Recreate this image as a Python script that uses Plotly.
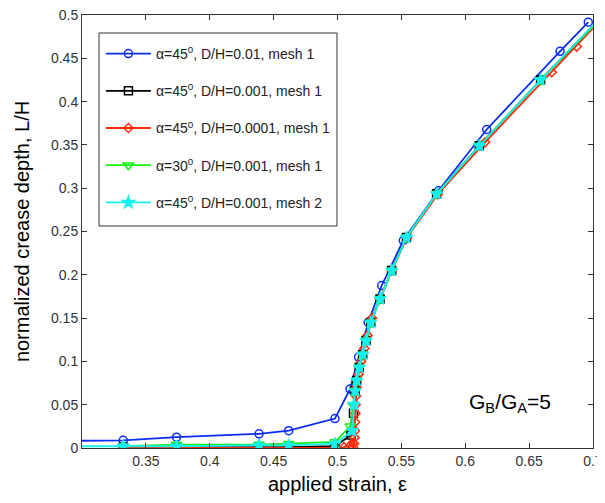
import plotly.graph_objects as go

# ---- data ----
blue_x = [0.25, 0.3323, 0.374, 0.4386, 0.4618, 0.498, 0.5098, 0.5165, 0.524, 0.5346, 0.5515, 0.579, 0.6168, 0.6742, 0.6963]
blue_y = [0.0075, 0.0089, 0.0125, 0.0164, 0.020, 0.034, 0.068, 0.105, 0.145, 0.1876, 0.2396, 0.297, 0.3678, 0.458, 0.4917]

black_x = [0.3323, 0.374, 0.4386, 0.4618, 0.498, 0.5105, 0.5125, 0.5137, 0.515, 0.517, 0.5197, 0.5223, 0.526, 0.5333, 0.5424, 0.554, 0.5776, 0.611, 0.659, 0.72]
black_y = [0.001, 0.001, 0.001, 0.001, 0.002, 0.015, 0.040, 0.066, 0.078, 0.093, 0.108, 0.124, 0.145, 0.172, 0.205, 0.243, 0.2935, 0.349, 0.425, 0.517]

red_x = [0.3323, 0.374, 0.4386, 0.4618, 0.498, 0.505, 0.51, 0.512, 0.5125, 0.513, 0.5133, 0.5136, 0.5138, 0.514, 0.5142, 0.5145, 0.515, 0.5165, 0.5185, 0.521, 0.5235, 0.527, 0.533, 0.5424, 0.5545, 0.5785, 0.6155, 0.6677, 0.6873, 0.72]
red_y = [0.0, 0.0, 0.0, 0.0, 0.0, 0.001, 0.003, 0.006, 0.0, 0.005, 0.012, 0.020, 0.030, 0.040, 0.050, 0.060, 0.070, 0.085, 0.100, 0.115, 0.130, 0.150, 0.172, 0.205, 0.243, 0.293, 0.353, 0.434, 0.4636, 0.516]

green_x = [0.3323, 0.374, 0.4386, 0.4618, 0.498, 0.51, 0.512, 0.5137, 0.515, 0.517, 0.5197, 0.5223, 0.526, 0.5333, 0.5424, 0.554, 0.5776, 0.611, 0.659, 0.72]
green_y = [0.002, 0.004, 0.004, 0.005, 0.007, 0.025, 0.050, 0.066, 0.078, 0.093, 0.108, 0.124, 0.145, 0.172, 0.205, 0.243, 0.2935, 0.349, 0.425, 0.517]

cyan_x = [0.25, 0.3323, 0.374, 0.4386, 0.4618, 0.498, 0.5115, 0.513, 0.5137, 0.515, 0.517, 0.5197, 0.5223, 0.526, 0.5333, 0.5424, 0.554, 0.5776, 0.611, 0.659, 0.72]
cyan_y = [0.002, 0.002, 0.002, 0.003, 0.003, 0.005, 0.020, 0.050, 0.066, 0.078, 0.093, 0.108, 0.124, 0.145, 0.172, 0.205, 0.243, 0.2935, 0.349, 0.425, 0.519]

names = [
    "α=45<sup>0</sup>, D/H=0.01, mesh 1",
    "α=45<sup>0</sup>, D/H=0.001, mesh 1",
    "α=45<sup>0</sup>, D/H=0.0001, mesh 1",
    "α=30<sup>0</sup>, D/H=0.001, mesh 1",
    "α=45<sup>0</sup>, D/H=0.001, mesh 2",
]

x_ticks = [0.35, 0.4, 0.45, 0.5, 0.55, 0.6, 0.65, 0.7]
x_ticklabels = ["0.35", "0.4", "0.45", "0.5", "0.55", "0.6", "0.65", "0.7"]
y_ticks = [0, 0.05, 0.1, 0.15, 0.2, 0.25, 0.3, 0.35, 0.4, 0.45, 0.5]
y_ticklabels = ["0", "0.05", "0.1", "0.15", "0.2", "0.25", "0.3", "0.35", "0.4", "0.45", "0.5"]

series = [
    (blue_x, blue_y, "#0a2cf5", "circle-open", 8),
    (black_x, black_y, "#000000", "square-open", 8),
    (red_x, red_y, "#ff2a0a", "diamond-open", 7),
    (green_x, green_y, "#14f014", "triangle-down-open", 9),
    (cyan_x, cyan_y, "#14f0f0", "star", 9),
]

fig = go.Figure()
for i, (xs, ys, col, sym, sz) in enumerate(series):
    fig.add_trace(go.Scatter(
        x=xs, y=ys, mode="lines+markers", name=names[i],
        legendgroup="g%d" % i,
        line=dict(color=col, width=1.8),
        marker=dict(symbol=sym, size=sz, color=col, line=dict(color=col, width=1.5)),
    ))

# page body has an 8px margin; the figure is sized so the plot area lands at about x 82-593, y 15-448
font_family = "Liberation Sans, Arial, sans-serif"
PT, PB = 15, 448   # plot top/bottom in page pixels
PH = PB - PT
fig.update_layout(
    width=597, height=495,
    margin=dict(l=74, r=12, t=PT - 8, b=495 - (PB - 8), autoexpand=False),
    paper_bgcolor="white", plot_bgcolor="white",
    font=dict(family=font_family, size=14, color="#222"),
    showlegend=True,
    legend=dict(
        x=0.037, y=(PB - 38) / PH, xanchor="left", yanchor="top",
        bgcolor="rgba(0,0,0,0)", borderwidth=0,
        font=dict(size=14, color="#222"),
        tracegroupgap=16, itemwidth=45,
    ),
    shapes=[dict(
        type="rect", xref="paper", yref="paper",
        x0=(99 - 82) / 511, x1=(337 - 82) / 511,
        y0=(PB - 226) / PH, y1=(PB - 33) / PH,
        line=dict(color="#333", width=1), fillcolor="white", layer="above",
    )],
    annotations=[dict(
        x=0.635, y=0.052, xref="x", yref="y", xanchor="center", yanchor="middle",
        text="G<sub>B</sub>/G<sub>A</sub>=5", showarrow=False,
        font=dict(size=21, color="#000"),
    )],
)
fig.update_xaxes(
    range=[0.3, 0.7], tickvals=x_ticks, ticktext=x_ticklabels, automargin=False,
    ticklabeloverflow="allow",
    ticks="inside", ticklen=5, tickcolor="#333", mirror="ticks",
    showline=True, linecolor="#333", linewidth=1, showgrid=False, zeroline=False,
    title=dict(text="applied strain, ε", font=dict(size=20, color="#000"), standoff=9),
    tickfont=dict(size=14, color="#333"),
)
fig.update_yaxes(
    range=[0, 0.5], tickvals=y_ticks, ticktext=y_ticklabels, automargin=False,
    ticklabeloverflow="allow",
    ticks="inside", ticklen=5, tickcolor="#333", mirror="ticks",
    showline=True, linecolor="#333", linewidth=1, showgrid=False, zeroline=False,
    title=dict(text="normalized crease depth, L/H", font=dict(size=20, color="#000"), standoff=15),
    tickfont=dict(size=14, color="#333"),
)

fig.write_html("out.html")
